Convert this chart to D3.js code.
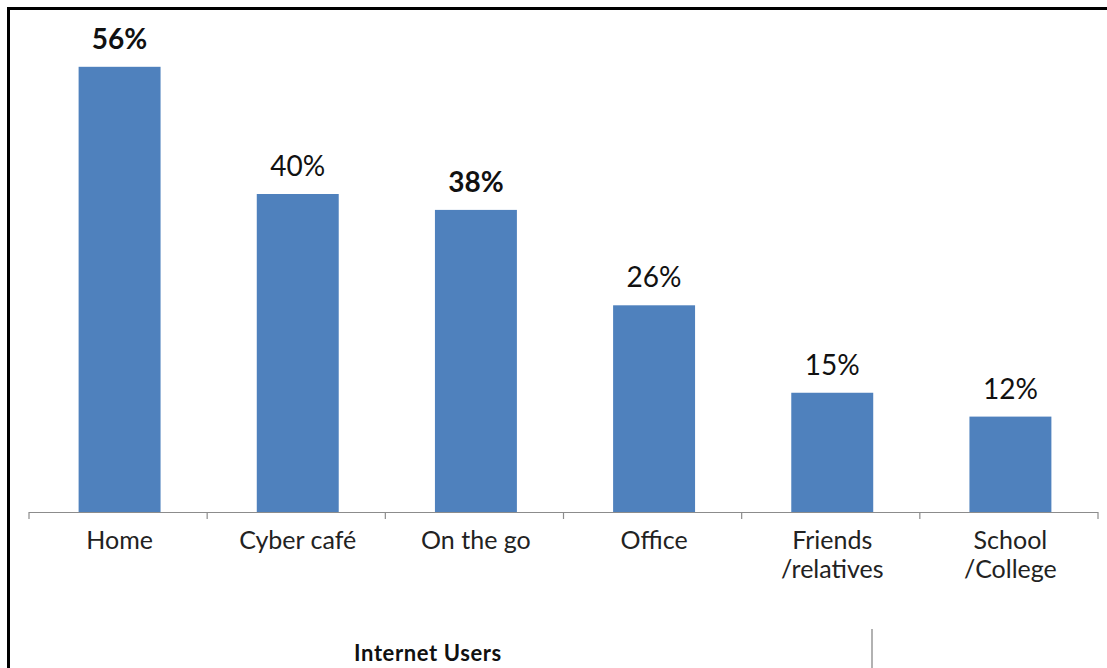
<!DOCTYPE html>
<html>
<head>
<meta charset="utf-8">
<script src="https://cdn.jsdelivr.net/npm/d3@7"></script>
<style>
  html, body { margin: 0; padding: 0; background: #fff; }
  svg { display: block; }
</style>
</head>
<body>
<svg id="chart" width="1107" height="668"></svg>
<script>
// ---- data ----
const categories = ["Home", "Cyber café", "On the go", "Office", "Friends\n/relatives", "School\n/College"];
const values = [56, 40, 38, 26, 15, 12];
const valueLabels = ["56%", "40%", "38%", "26%", "15%", "12%"];
const groupLabel = "Internet Users";
const boldLabelCategories = ["Home", "On the go"];

// ---- layout ----
const W = 1107, H = 668;
const baseY = 512;
const svg = d3.select("#chart");

const x = d3.scaleBand()
  .domain(categories)
  .range([29, 1098])
  .paddingInner(0.54)
  .paddingOuter(0.27);

const y = d3.scaleLinear()
  .domain([0, 60])
  .range([baseY, 35]);

const barShift = 1.5;

// frame (top + left)
svg.append("line").attr("x1", 7).attr("x2", W).attr("y1", 8.5).attr("y2", 8.5)
  .attr("stroke", "#000").attr("stroke-width", 3);
svg.append("line").attr("x1", 8.5).attr("x2", 8.5).attr("y1", 7).attr("y2", H)
  .attr("stroke", "#000").attr("stroke-width", 3);

// bars
svg.append("g").selectAll("rect")
  .data(categories)
  .join("rect")
  .attr("x", d => x(d) + barShift)
  .attr("width", x.bandwidth())
  .attr("y", (d, i) => y(values[i]))
  .attr("height", (d, i) => y(0) - y(values[i]))
  .attr("fill", "#4F81BD");

// axis line and ticks at band boundaries
const step = x.step();
const start = x.range()[0];
svg.append("line")
  .attr("x1", start).attr("x2", x.range()[1])
  .attr("y1", baseY + 0.5).attr("y2", baseY + 0.5)
  .attr("stroke", "#8c8c8c").attr("stroke-width", 1.2);
const tickPos = d3.range(categories.length + 1).map(i => start + i * step);
svg.append("g").selectAll("line")
  .data(tickPos)
  .join("line")
  .attr("x1", d => d).attr("x2", d => d)
  .attr("y1", baseY).attr("y2", baseY + 7)
  .attr("stroke", "#8c8c8c").attr("stroke-width", 1.2);

// value labels
svg.append("g").selectAll("text")
  .data(categories)
  .join("text")
  .attr("x", d => x(d) + barShift + x.bandwidth() / 2)
  .attr("y", (d, i) => y(values[i]) - 18)
  .attr("text-anchor", "middle")
  .attr("font-family", "Lato, 'Open Sans', sans-serif")
  .attr("font-size", 28)
  .attr("font-weight", d => boldLabelCategories.includes(d) ? 700 : 400)
  .attr("fill", "#111")
  .text((d, i) => valueLabels[i]);

// category labels
const catG = svg.append("g").selectAll("text")
  .data(categories)
  .join("text")
  .attr("x", d => x(d) + x.bandwidth() / 2)
  .attr("y", 549)
  .attr("text-anchor", "middle")
  .attr("font-family", "Lato, 'Open Sans', sans-serif")
  .attr("font-size", 25)
  .attr("fill", "#222");
catG.each(function(d) {
  const lines = d.split("\n");
  const t = d3.select(this);
  lines.forEach((ln, k) => {
    t.append("tspan")
      .attr("x", x(d) + barShift + x.bandwidth() / 2)
      .attr("dy", k === 0 ? 0 : 29)
      .text(ln);
  });
});

// group label
svg.append("text")
  .attr("x", 428)
  .attr("y", 661)
  .attr("text-anchor", "middle")
  .attr("font-family", "Lato, 'Open Sans', sans-serif")
  .attr("font-size", 22)
  .attr("font-weight", 700)
  .attr("letter-spacing", 0.6)
  .attr("fill", "#111")
  .text(groupLabel);

// group separator
svg.append("line")
  .attr("x1", 872).attr("x2", 872)
  .attr("y1", 629).attr("y2", H)
  .attr("stroke", "#999").attr("stroke-width", 1.5);
</script>
</body>
</html>
